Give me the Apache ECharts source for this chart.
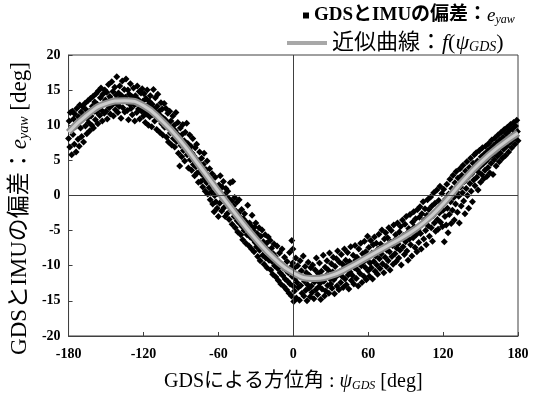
<!DOCTYPE html>
<html><head><meta charset="utf-8">
<script src="https://cdn.jsdelivr.net/npm/echarts@6/dist/echarts.min.js"></script>
<style>html,body{margin:0;padding:0;background:#fff}#c{width:533px;height:397px}</style>
</head><body><div id="c"></div>
<script>
// Axis ticks
const xTicks = [-180, -120, -60, 0, 60, 120, 180];
const yTicks = [-20, -15, -10, -5, 0, 5, 10, 15, 20];

// Fitted curve f(psi_GDS)
const fitPsi = [-180,-165,-150,-135,-120,-105,-90,-75,-60,-45,-30,-15,0,15,30,45,60,75,90,105,120,135,150,165,180];
const fitVal = [9.0,11.5,13.1,13.5,12.8,10.6,7.7,4.2,0.6,-2.9,-6.2,-9.0,-11.0,-11.8,-11.4,-10.2,-8.7,-7.2,-5.7,-3.8,-1.2,1.9,4.7,7.0,8.9];

// Scatter e_yaw, by 60-degree block
const ptsA = [[-180,8.1],[-179.5,10.6],[-179,6.9],[-178.6,11.8],[-178,9.4],[-177.5,5.8],[-177,12.0],[-176.5,8.7],[-176,10.9],[-175.4,7.3],[-175,11.6],[-174.5,9.8],[-174,6.2],[-173.5,12.4],[-173,10.1],[-172.4,8.0],[-172,11.2],[-171.5,7.0],[-171,12.9],[-170.4,9.6],[-170,11.9],[-169.5,8.4],[-169,10.8],[-168.5,12.6],[-168,7.6],[-167.4,11.4],[-167,13.1],[-166.5,9.9],[-166,12.2],[-165.4,8.8],[-165,11.0],[-164.5,13.5],[-164,10.4],[-163.4,12.0],[-163,9.2],[-162.5,13.8],[-162,11.3],[-161.4,10.0],[-161,12.7],[-160.5,14.1],[-160,9.6],[-159.4,12.0],[-159,13.3],[-158.5,10.8],[-158,14.5],[-157.4,11.9],[-157,13.0],[-156.5,10.2],[-156,14.9],[-155.4,12.6],[-155,11.4],[-154.5,13.9],[-154,15.3],[-153.4,12.1],[-153,10.6],[-152.5,14.4],[-152,13.1],[-151.4,11.7],[-151,15.0],[-150.5,13.6],[-150,12.0],[-149.4,14.7],[-149,10.9],[-148.5,13.2],[-148,15.8],[-147.4,12.5],[-147,14.1],[-146.5,11.6],[-146,13.7],[-145.4,16.2],[-145,12.9],[-144.5,14.8],[-144,11.3],[-143.4,13.5],[-143,15.4],[-142.5,12.2],[-142,14.3],[-141.4,16.9],[-141,13.0],[-140.5,11.8],[-140,14.6],[-139.4,12.7],[-139,15.6],[-138.5,13.9],[-138,11.0],[-137.4,14.2],[-137,16.3],[-136.5,12.5],[-136,13.7],[-135.4,15.1],[-135,11.9],[-134.5,14.0],[-134,16.6],[-133.4,13.3],[-133,12.1],[-132.5,15.0],[-132,10.8],[-131.4,14.4],[-131,13.0],[-130.5,15.9],[-130,12.4],[-129.4,14.1],[-129,11.5],[-128.5,13.6],[-128,15.3],[-127.4,12.9],[-127,10.6],[-126.5,14.2],[-126,13.1],[-125.4,11.8],[-125,15.6],[-124.5,13.7],[-124,12.3],[-123.4,14.8],[-123,10.9],[-122.5,13.3],[-122,14.6],[-121.4,12.0],[-121,15.2],[-120.5,13.4],[-120,11.3]];
const ptsB = [[-119.5,14.5],[-119,12.1],[-118.5,10.4],[-118,13.8],[-117.4,11.6],[-117,15.0],[-116.5,12.9],[-116,10.0],[-115.4,13.4],[-115,11.2],[-114.5,14.2],[-114,12.6],[-113.4,9.8],[-113,13.0],[-112.5,11.5],[-112,15.1],[-111.4,12.3],[-111,10.6],[-110.5,13.9],[-110,11.8],[-109.4,9.4],[-109,12.7],[-108.5,14.4],[-108,10.9],[-107.4,12.0],[-107,9.0],[-106.5,11.4],[-106,13.2],[-105.4,10.2],[-105,12.3],[-104.5,8.6],[-104,11.0],[-103.4,13.1],[-103,9.7],[-102.5,10.8],[-102,12.4],[-101.4,8.3],[-101,10.4],[-100.5,11.7],[-100,7.6],[-99.4,9.9],[-99,12.0],[-98.5,8.9],[-98,10.6],[-97.4,7.2],[-97,9.5],[-96.5,11.3],[-96,8.1],[-95.4,10.0],[-95,6.9],[-94.5,9.2],[-94,11.8],[-93.4,7.7],[-93,8.8],[-92.5,10.4],[-92,6.0],[-91.4,8.3],[-91,4.2],[-90.5,9.6],[-90,7.1],[-89.4,5.5],[-89,8.7],[-88.5,10.1],[-88,6.4],[-87.4,7.8],[-87,4.9],[-86.5,9.0],[-86,6.9],[-85.4,10.3],[-85,5.8],[-84.5,7.4],[-84,3.9],[-83.4,6.5],[-83,8.6],[-82.5,5.1],[-82,7.0],[-81.4,3.6],[-81,6.0],[-80.5,8.1],[-80,4.4],[-79.4,5.6],[-79,2.8],[-78.5,6.8],[-78,4.1],[-77.4,7.3],[-77,3.2],[-76.5,5.0],[-76,1.9],[-75.4,4.6],[-75,6.2],[-74.5,3.5],[-74,2.0],[-73.4,5.3],[-73,3.0],[-72.5,1.2],[-72,4.4],[-71.4,6.0],[-71,2.4],[-70.5,0.6],[-70,3.7],[-69.4,1.8],[-69,4.9],[-68.5,0.2],[-68,2.9],[-67.4,1.1],[-67,3.8],[-66.5,-0.6],[-66,2.2],[-65.4,0.5],[-65,3.1],[-64.5,-1.2],[-64,1.4],[-63.4,-2.3],[-63,0.0],[-62.5,2.6],[-62,-0.9],[-61.4,1.0],[-61,-1.8],[-60.5,0.3],[-60,-3.0]];
const ptsC = [[-59.5,1.5],[-59,-1.1],[-58.5,2.8],[-58,0.4],[-57.4,-2.2],[-57,1.2],[-56.5,-0.5],[-56,2.0],[-55.4,-1.7],[-55,0.1],[-54.5,-3.0],[-54,1.0],[-53.4,-1.1],[-53,-2.6],[-52.5,0.6],[-52,-0.4],[-51.4,-3.4],[-51,-1.5],[-50.5,1.8],[-50,-2.1],[-49.4,-0.8],[-49,-4.1],[-48.5,2.0],[-48,-1.5],[-47.4,-3.0],[-47,-0.3],[-46.5,-4.6],[-46,-2.2],[-45.4,-1.0],[-45,-3.6],[-44.5,-5.2],[-44,-2.5],[-43.4,-0.6],[-43,-4.0],[-42.5,-3.1],[-42,-5.6],[-41.4,-2.0],[-41,-4.4],[-40.5,-6.3],[-40,-3.3],[-39.4,-5.0],[-39,-2.6],[-38.5,-4.1],[-38,-6.8],[-37.4,-3.8],[-37,-5.6],[-36.5,-1.4],[-36,-4.6],[-35.4,-7.2],[-35,-3.9],[-34.5,-5.9],[-34,-4.3],[-33.4,-7.6],[-33,-2.8],[-32.5,-6.2],[-32,-5.0],[-31.4,-8.0],[-31,-4.5],[-30.5,-6.7],[-30,-3.9],[-29.4,-7.3],[-29,-5.4],[-28.5,-8.7],[-28,-6.0],[-27.4,-4.6],[-27,-7.8],[-26.5,-9.3],[-26,-5.8],[-25.4,-7.0],[-25,-4.9],[-24.5,-8.5],[-24,-6.6],[-23.4,-9.8],[-23,-7.4],[-22.5,-5.6],[-22,-8.9],[-21.4,-6.8],[-21,-10.3],[-20.5,-7.7],[-20,-5.9],[-19.4,-9.2],[-19,-8.1],[-18.5,-6.4],[-18,-10.6],[-17.4,-7.5],[-17,-9.4],[-16.5,-11.2],[-16,-8.3],[-15.4,-6.9],[-15,-10.0],[-14.5,-8.7],[-14,-11.6],[-13.4,-9.1],[-13,-7.2],[-12.5,-10.4],[-12,-12.1],[-11.4,-9.5],[-11,-8.2],[-10.5,-11.0],[-10,-12.6],[-9.4,-9.8],[-9,-7.6],[-8.5,-11.4],[-8,-10.3],[-7.4,-13.0],[-7,-8.8],[-6.5,-11.9],[-6,-10.6],[-5.4,-13.4],[-5,-9.4],[-4.5,-12.2],[-4,-11.0],[-3.4,-13.9],[-3,-8.1],[-2.5,-12.6],[-2,-10.2],[-1.4,-14.3],[-1,-11.5],[-0.5,-9.6],[0,-12.9],[-1.2,-6.4],[-0.3,-7.6],[0.4,-15.1]];
const ptsD = [[0.5,-10.4],[1,-13.6],[1.5,-11.8],[2,-8.9],[2.5,-14.6],[3,-12.4],[3.5,-10.0],[4,-13.1],[4.5,-11.2],[5,-14.9],[5.5,-9.3],[6,-12.8],[6.5,-10.7],[7,-13.9],[7.5,-11.6],[8,-8.6],[8.5,-14.3],[9,-12.2],[9.5,-10.1],[10,-13.5],[10.5,-11.0],[11,-15.0],[11.5,-12.7],[12,-9.5],[12.5,-13.2],[13,-11.4],[13.5,-14.4],[14,-10.3],[14.5,-12.9],[15,-13.8],[15.5,-9.9],[16,-11.9],[16.5,-14.7],[17,-12.3],[17.5,-10.6],[18,-13.4],[18.5,-8.9],[19,-12.0],[19.5,-14.1],[20,-11.1],[20.5,-13.0],[21,-9.6],[21.5,-12.5],[22,-14.8],[22.5,-10.8],[23,-13.3],[23.5,-11.7],[24,-8.5],[24.5,-12.2],[25,-14.3],[25.5,-10.2],[26,-13.6],[26.5,-11.4],[27,-9.3],[27.5,-12.8],[28,-10.6],[28.5,-13.9],[29,-8.2],[29.5,-11.9],[30,-12.6],[30.5,-9.7],[31,-13.2],[31.5,-10.9],[32,-8.8],[32.5,-12.0],[33,-14.0],[33.5,-10.1],[34,-11.6],[34.5,-9.0],[35,-12.9],[35.5,-7.9],[36,-11.2],[36.5,-13.4],[37,-9.5],[37.5,-10.8],[38,-12.4],[38.5,-8.4],[39,-11.5],[39.5,-9.8],[40,-13.1],[40.5,-10.4],[41,-7.6],[41.5,-11.9],[42,-9.2],[42.5,-12.7],[43,-10.0],[43.5,-8.1],[44,-11.3],[44.5,-13.3],[45,-9.4],[45.5,-10.9],[46,-7.3],[46.5,-12.1],[47,-9.9],[47.5,-11.4],[48,-8.5],[48.5,-12.6],[49,-10.3],[49.5,-7.1],[50,-9.2],[50.5,-11.8],[51,-8.8],[51.5,-10.6],[52,-12.9],[52.5,-7.6],[53,-9.7],[53.5,-11.1],[54,-6.8],[54.5,-10.0],[55,-12.4],[55.5,-8.3],[56,-9.5],[56.5,-11.5],[57,-6.5],[57.5,-10.2],[58,-8.0],[58.5,-12.0],[59,-9.1],[59.5,-5.8],[60,-10.7]];
const ptsE = [[60.5,-7.4],[61,-11.5],[61.5,-9.6],[62,-6.4],[62.5,-10.3],[63,-8.2],[63.5,-11.9],[64,-7.0],[64.5,-9.4],[65,-5.9],[65.5,-10.8],[66,-8.6],[66.5,-6.8],[67,-9.9],[67.5,-11.2],[68,-7.6],[68.5,-5.5],[69,-9.0],[69.5,-10.4],[70,-6.9],[70.5,-8.3],[71,-4.9],[71.5,-9.7],[72,-7.4],[72.5,-11.0],[73,-6.2],[73.5,-8.8],[74,-5.3],[74.5,-10.1],[75,-7.8],[75.5,-6.0],[76,-9.3],[76.5,-4.6],[77,-8.0],[77.5,-10.6],[78,-6.6],[78.5,-5.0],[79,-8.7],[79.5,-7.1],[80,-9.8],[80.5,-4.2],[81,-6.4],[81.5,-8.3],[82,-5.6],[82.5,-9.4],[83,-7.5],[83.5,-3.9],[84,-6.9],[84.5,-8.9],[85,-5.2],[85.5,-7.8],[86,-4.4],[86.5,-9.9],[87,-6.1],[87.5,-3.5],[88,-7.3],[88.5,-5.7],[89,-8.4],[89.5,-4.1],[90,-6.6],[90.5,-3.0],[91,-7.9],[91.5,-5.3],[92,-9.2],[92.5,-4.7],[93,-6.2],[93.5,-2.7],[94,-7.0],[94.5,-5.0],[95,-8.6],[95.5,-3.8],[96,-6.0],[96.5,-2.3],[97,-4.5],[97.5,-7.4],[98,-3.3],[98.5,-5.6],[99,-8.0],[99.5,-2.0],[100,-4.9],[100.5,-6.7],[101,-3.1],[101.5,-1.6],[102,-5.4],[102.5,-7.6],[103,-2.6],[103.5,-4.1],[104,-0.9],[104.5,-6.2],[105,-3.5],[105.5,-1.9],[106,-5.0],[106.5,-7.0],[107,-2.8],[107.5,-0.6],[108,-4.3],[108.5,-2.0],[109,-5.8],[109.5,-3.2],[110,-0.2],[110.5,-4.6],[111,-1.5],[111.5,-6.5],[112,-2.9],[112.5,0.4],[113,-3.9],[113.5,-1.1],[114,-5.1],[114.5,-2.2],[115,0.8],[115.5,-3.4],[116,-4.8],[116.5,-0.7],[117,-2.5],[117.5,1.3],[118,-3.8],[118.5,-1.6],[119,0.3],[119.5,-4.4],[120,-2.1]];
const ptsF = [[120.5,0.9],[121,-6.6],[121.5,-3.0],[122,-0.5],[122.5,-4.2],[123,1.6],[123.5,-1.8],[124,-5.3],[124.5,0.2],[125,-2.7],[125.5,2.3],[126,-0.9],[126.5,-4.0],[127,1.0],[127.5,-2.1],[128,2.9],[128.5,-0.3],[129,-3.5],[129.5,1.8],[130,-1.2],[130.5,3.4],[131,0.5],[131.5,-2.4],[132,2.5],[132.5,-0.1],[133,-3.9],[133.5,3.8],[134,1.2],[134.5,-1.5],[135,2.9],[135.5,0.4],[136,4.3],[136.5,-0.8],[137,2.0],[137.5,-2.6],[138,3.5],[138.5,1.0],[139,4.8],[139.5,0.0],[140,2.6],[140.5,-1.8],[141,4.0],[141.5,1.7],[142,5.3],[142.5,0.6],[143,3.1],[143.5,-0.9],[144,4.6],[144.5,2.2],[145,5.8],[145.5,1.4],[146,3.7],[146.5,6.1],[147,2.6],[147.5,4.9],[148,0.8],[148.5,3.3],[149,6.4],[149.5,4.1],[150,1.9],[150.5,5.5],[151,3.0],[151.5,6.8],[152,4.5],[152.5,2.4],[153,5.9],[153.5,3.6],[154,7.0],[154.5,4.9],[155,2.7],[155.5,6.3],[156,4.0],[156.5,7.4],[157,5.4],[157.5,3.2],[158,6.7],[158.5,4.6],[159,7.9],[159.5,5.8],[160,3.0],[160.5,7.1],[161,5.1],[161.5,8.2],[162,6.3],[162.5,4.2],[163,7.5],[163.5,5.6],[164,8.6],[164.5,6.8],[165,4.8],[165.5,7.9],[166,6.0],[166.5,9.0],[167,7.2],[167.5,5.3],[168,8.3],[168.5,6.6],[169,9.4],[169.5,7.6],[170,5.7],[170.5,8.8],[171,7.0],[171.5,9.7],[172,8.0],[172.5,6.2],[173,9.2],[173.5,7.5],[174,10.1],[174.5,8.4],[175,6.8],[175.5,9.5],[176,8.0],[176.5,10.4],[177,8.8],[177.5,7.3],[178,9.9],[178.5,8.5],[179,10.7],[179.5,9.1],[180,7.8]];

const scatterName = 'GDSとIMUの偏差';
const fitName = '近似曲線';

const FONT = "'Liberation Serif','Noto Sans CJK JP',serif";
const fitData = fitPsi.map((p, i) => [p, fitVal[i]]);
const allPts = [].concat(ptsA, ptsB, ptsC, ptsD, ptsE, ptsF);

const chart = echarts.init(document.getElementById('c'), null, {renderer: 'canvas'});
const axisCol = '#404040';
function rich(sz, bold) {
  return {
    n: {fontFamily: FONT, fontSize: sz, fontWeight: bold ? 'bold' : 'normal', color: '#000'},
    i: {fontFamily: FONT, fontSize: sz, fontStyle: 'italic', color: '#000'},
    s: {fontFamily: FONT, fontSize: Math.round(sz * 0.62), fontStyle: 'italic', color: '#000', padding: [Math.round(sz * 0.4), 0, 0, 0]}
  };
}
chart.setOption({
  animation: false,
  backgroundColor: '#fff',
  grid: {left: 61, right: 15, top: 55, bottom: 60, show: true, borderColor: axisCol, borderWidth: 1},
  legend: [
    {data: [scatterName], left: 298, top: 1, icon: 'rect', itemWidth: 6, itemHeight: 6, itemGap: 0,
     formatter: () => '{n|GDSとIMUの偏差：}{i|e}{s|yaw}', textStyle: {rich: rich(19, true)}},
    {data: [{name: fitName, itemStyle: {color: '#a8a8a8'}}], left: 282, top: 27, icon: 'rect', itemWidth: 40, itemHeight: 4,
     formatter: () => '{n|近似曲線：}{i|f}{n|(}{i|ψ}{s|GDS}{n|)}', textStyle: {rich: rich(22, false)}}
  ],
  xAxis: {
    type: 'value', min: -180, max: 180, interval: 60,
    axisLine: {onZero: false, lineStyle: {color: axisCol}},
    axisTick: {inside: true, length: 4, lineStyle: {color: axisCol}},
    axisLabel: {fontFamily: FONT, fontSize: 14, fontWeight: 'bold', color: '#000', margin: 11,
      formatter: v => xTicks.includes(v) ? String(v) : ''},
    splitLine: {show: false},
    name: '{n|GDSによる方位角 : }{i|ψ}{s|GDS}{n| [deg]}',
    nameLocation: 'middle', nameGap: 36,
    nameTextStyle: {rich: rich(20, false)}
  },
  yAxis: {
    type: 'value', min: -20, max: 20, interval: 5,
    axisLine: {onZero: false, lineStyle: {color: axisCol}},
    axisTick: {inside: true, length: 4, lineStyle: {color: axisCol}},
    axisLabel: {fontFamily: FONT, fontSize: 14, fontWeight: 'bold', color: '#000', margin: 8,
      formatter: v => yTicks.includes(v) ? String(v) : ''},
    splitLine: {show: false},
    name: '{n|GDSとIMUの偏差：}{i|e}{s|yaw}{n| [deg]}',
    nameLocation: 'middle', nameGap: 27, nameRotate: 90,
    nameTextStyle: {rich: rich(23, false), padding: [0, 26, 0, 0]}
  },
  series: [
    {name: scatterName, type: 'scatter', data: allPts, symbol: 'diamond', symbolSize: 7,
     itemStyle: {color: '#000', opacity: 1}, z: 2,
     markLine: {silent: true, symbol: 'none', label: {show: false}, lineStyle: {color: axisCol, width: 1, type: 'solid'},
       data: [{xAxis: 0}, {yAxis: 0}], animation: false}},
    {name: fitName, type: 'line', data: fitData, smooth: true, showSymbol: false, symbol: 'none',
     lineStyle: {color: '#8c8c8c', width: 7}, itemStyle: {color: '#a8a8a8'}, z: 3},
    {name: 'fit-inner', type: 'line', data: fitData, smooth: true, showSymbol: false, symbol: 'none',
     lineStyle: {color: '#cdcdcd', width: 3}, z: 4}
  ]
});
</script></body></html>
